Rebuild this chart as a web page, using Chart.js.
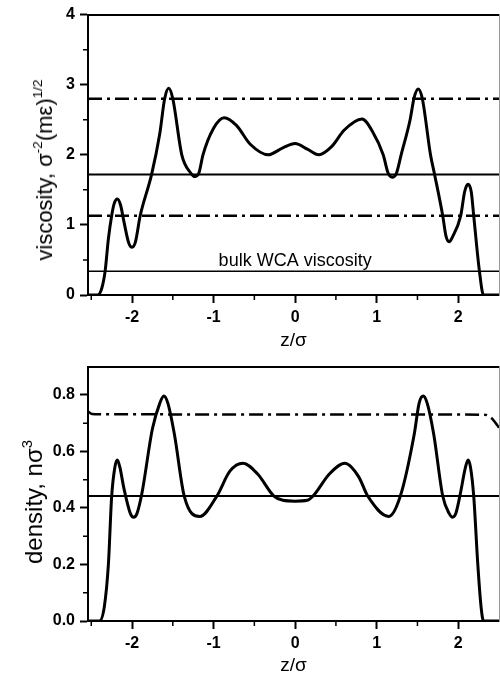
<!DOCTYPE html>
<html>
<head>
<meta charset="utf-8">
<script src="https://cdn.jsdelivr.net/npm/chart.js@4.4.0/dist/chart.umd.min.js"></script>
<style>
body { margin: 0; background: #fff; }
#wrap { position: relative; width: 500px; height: 677px; overflow: hidden; font-family: "Liberation Sans", Arial, sans-serif; }
canvas { position: absolute; left: 0; }
.ytitle { position: absolute; transform: translate(-50%, -50%) rotate(-90deg); white-space: nowrap; line-height: 1; color: #000; }
.ytitle sup { font-size: 62%; vertical-align: 0; position: relative; top: -0.7em; }
</style>
</head>
<body>
<div id="wrap">
  <canvas id="viscChart" width="500" height="352" style="top:0"></canvas>
  <canvas id="densChart" width="500" height="325" style="top:352px"></canvas>
  <div class="ytitle" style="left:45px; top:170px; font-size:22px">viscosity, &sigma;<sup>-2</sup>(m&epsilon;)<sup>1/2</sup></div>
  <div class="ytitle" style="left:34px; top:502px; font-size:24px">density, n&sigma;<sup>3</sup></div>
</div>
<script>
// shared z axis
var zRange = [-2.54, 2.50];
var zTicks = [-2, -1, 0, 1, 2];
var zTickLabels = ['-2', '-1', '0', '1', '2'];
var zMinor = [-2.5, -1.5, -0.5, 0.5, 1.5];

// viscosity panel
var viscTicks = [0, 1, 2, 3, 4];
var viscTickLabels = ['0', '1', '2', '3', '4'];
var viscMinor = [0.5, 1.5, 2.5, 3.5];
var zVisc = [-2.54, -2.42, -2.37, -2.33, -2.29, -2.25, -2.22, -2.18, -2.14, -2.10, -2.04, -2.00, -1.96, -1.90, -1.76,
    -1.66, -1.60, -1.55, -1.50, -1.39, -1.28, -1.23, -1.18, -1.13, -1.00, -0.87, -0.72, -0.55, -0.33, -0.15, 0.00, 0.15,
    0.29, 0.45, 0.60, 0.82, 0.95, 1.08, 1.14, 1.19, 1.24, 1.30, 1.41, 1.46, 1.51, 1.56, 1.66, 1.71, 1.81, 1.85, 1.89,
    1.93, 2.03, 2.08, 2.12, 2.16, 2.19, 2.26, 2.31, 2.50];
var visc = [0, 0, 0.1, 0.34, 0.8, 1.13, 1.3, 1.37, 1.28, 1.05, 0.74, 0.68, 0.75, 1.13, 1.72,
    2.3, 2.8, 2.95, 2.8, 2.0, 1.74, 1.69, 1.74, 2.0, 2.38, 2.53, 2.42, 2.15, 2.0, 2.1, 2.16, 2.08,
    2.0, 2.12, 2.35, 2.51, 2.33, 2.0, 1.74, 1.68, 1.73, 2.0, 2.5, 2.82, 2.94, 2.8, 2.0, 1.72, 1.13, 0.84, 0.76,
    0.83, 1.13, 1.48, 1.58, 1.47, 1.13, 0.34, 0, 0];
var viscUpper = 2.80;
var viscMean = 1.72;
var viscLower = 1.13;
var viscBulkWCA = 0.34;

// density panel
var densTicks = [0, 0.2, 0.4, 0.6, 0.8];
var densTickLabels = ['0.0', '0.2', '0.4', '0.6', '0.8'];
var densMinor = [0.1, 0.3, 0.5, 0.7];
var zDens = [-2.54, -2.40, -2.34, -2.29, -2.25, -2.21, -2.18, -2.15, -2.10, -2.02, -1.98, -1.94, -1.88, -1.75, -1.66,
    -1.61, -1.56, -1.48, -1.36, -1.17, -0.96, -0.80, -0.64, -0.46, -0.26, -0.15, 0.00, 0.15, 0.22, 0.42, 0.61, 0.78,
    0.89, 1.15, 1.29, 1.46, 1.52, 1.57, 1.62, 1.70, 1.81, 1.89, 1.93, 1.97, 2.02, 2.09, 2.12, 2.15, 2.19, 2.24, 2.28,
    2.31, 2.50];
var dens = [0, 0, 0.05, 0.2, 0.44, 0.545, 0.57, 0.545, 0.47, 0.38, 0.367, 0.38, 0.45, 0.68, 0.77,
    0.796, 0.77, 0.66, 0.442, 0.37, 0.442, 0.53, 0.558, 0.52, 0.442, 0.427, 0.424, 0.427, 0.442, 0.52, 0.558, 0.51,
    0.442, 0.37, 0.442, 0.66, 0.77, 0.796, 0.77, 0.66, 0.442, 0.38, 0.367, 0.38, 0.442, 0.545, 0.57, 0.545, 0.442, 0.2, 0.05,
    0, 0];
var zDensBulk = [-2.54, -2.49, -2.40, 2.32, 2.40, 2.46, 2.50];
var densBulk = [0.742, 0.732, 0.731, 0.730, 0.72, 0.70, 0.684];
var densMean = 0.442;

var fontFamily = '"Liberation Sans", Arial, sans-serif';
var dashDot = [14, 5, 3, 5];

function pts(xs, ys) {
    return xs.map(function (x, i) { return {x: x, y: ys[i]}; });
}

function hline(y) {
    return [{x: zRange[0], y: y}, {x: zRange[1], y: y}];
}

function lineSet(data, width, dash) {
    return {
        data: data,
        borderColor: '#000',
        borderWidth: width,
        borderDash: dash || [],
        pointRadius: 0,
        fill: false,
        cubicInterpolationMode: 'monotone'
    };
}

// minor ticks and the in-plot note, placed through the chart scales
var extras = {
    id: 'extras',
    afterDraw: function (chart, args, opts) {
        var ctx = chart.ctx;
        var a = chart.chartArea;
        var xs = chart.scales.x, ys = chart.scales.y;
        ctx.save();
        ctx.strokeStyle = '#000';
        ctx.lineWidth = 1.5;
        ctx.beginPath();
        opts.xMinor.forEach(function (v) {
            var px = xs.getPixelForValue(v);
            ctx.moveTo(px, a.bottom);
            ctx.lineTo(px, a.bottom + 5);
        });
        opts.yMinor.forEach(function (v) {
            var py = ys.getPixelForValue(v);
            ctx.moveTo(a.left, py);
            ctx.lineTo(a.left - 5, py);
        });
        ctx.stroke();
        if (opts.note) {
            ctx.fillStyle = '#000';
            ctx.font = '18px ' + fontFamily;
            ctx.textAlign = 'center';
            ctx.textBaseline = 'alphabetic';
            ctx.fillText(opts.note.text, xs.getPixelForValue(opts.note.x), ys.getPixelForValue(opts.note.y));
        }
        ctx.restore();
    }
};

function makeScales(yMin, yMax, yTicks, yLabels, xHeight) {
    var tickFont = {family: fontFamily, size: 16, weight: 'bold'};
    return {
        x: {
            type: 'linear', min: zRange[0], max: zRange[1],
            afterBuildTicks: function (s) { s.ticks = zTicks.map(function (v) { return {value: v}; }); },
            afterFit: function (s) { s.height = xHeight; },
            ticks: {
                font: tickFont, color: '#000', padding: 5, maxRotation: 0, autoSkip: false,
                callback: function (v) { return zTickLabels[zTicks.indexOf(v)]; }
            },
            grid: {drawOnChartArea: false, tickLength: 8, tickWidth: 2, tickColor: '#000'},
            border: {color: '#000', width: 2},
            title: {display: true, text: 'z/σ', color: '#000', padding: 0, font: {family: fontFamily, size: 19}}
        },
        y: {
            type: 'linear', min: yMin, max: yMax,
            afterBuildTicks: function (s) { s.ticks = yTicks.map(function (v) { return {value: v}; }); },
            afterFit: function (s) { s.width = 88; },
            ticks: {
                font: tickFont, color: '#000', padding: 5, autoSkip: false,
                callback: function (v) { return yLabels[yTicks.indexOf(v)]; }
            },
            grid: {drawOnChartArea: false, tickLength: 8, tickWidth: 2, tickColor: '#000'},
            border: {color: '#000', width: 2}
        },
        x2: {
            type: 'linear', position: 'top', min: zRange[0], max: zRange[1],
            afterFit: function (s) { s.height = 0; },
            ticks: {display: false},
            grid: {drawOnChartArea: false, drawTicks: false},
            border: {color: '#000', width: 2}
        },
        y2: {
            type: 'linear', position: 'right', min: yMin, max: yMax,
            afterFit: function (s) { s.width = 0; },
            ticks: {display: false},
            grid: {drawOnChartArea: false, drawTicks: false},
            border: {color: '#999', width: 1}
        }
    };
}

function baseOptions(padTop, scales, extraOpts) {
    return {
        responsive: false,
        animation: false,
        devicePixelRatio: 1,
        layout: {padding: {top: padTop, right: 1, left: 0, bottom: 0}},
        scales: scales,
        plugins: {legend: {display: false}, tooltip: {enabled: false}, extras: extraOpts}
    };
}

new Chart(document.getElementById('viscChart'), {
    type: 'line',
    data: {
        datasets: [
            lineSet(hline(viscUpper), 2.5, dashDot),
            lineSet(hline(viscLower), 2.5, dashDot),
            lineSet(hline(viscMean), 2),
            lineSet(hline(viscBulkWCA), 1.5),
            lineSet(pts(zVisc, visc), 3)
        ]
    },
    options: baseOptions(12, makeScales(0, 4, viscTicks, viscTickLabels, 57),
        {xMinor: zMinor, yMinor: viscMinor, note: {text: 'bulk WCA viscosity', x: 0, y: 0.42}}),
    plugins: [extras]
});

new Chart(document.getElementById('densChart'), {
    type: 'line',
    data: {
        datasets: [
            lineSet(pts(zDensBulk, densBulk), 2.5, dashDot),
            lineSet(hline(densMean), 2),
            lineSet(pts(zDens, dens), 3)
        ]
    },
    options: baseOptions(4, makeScales(0, 0.9, densTicks, densTickLabels, 56),
        {xMinor: zMinor, yMinor: densMinor, note: null}),
    plugins: [extras]
});
</script>
</body>
</html>
